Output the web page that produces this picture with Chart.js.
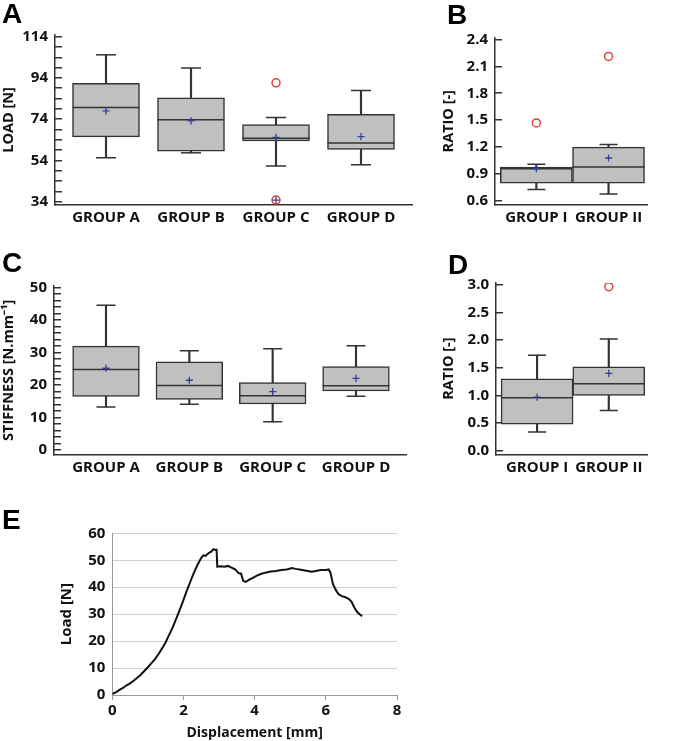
<!DOCTYPE html>
<html><head><meta charset="utf-8">
<script src="https://cdn.jsdelivr.net/npm/chart.js@4.4.1/dist/chart.umd.min.js"></script>
<style>
html,body{margin:0;padding:0;background:#fff;}
#wrap{position:relative;width:685px;height:741px;overflow:hidden;background:#fff;}
canvas{position:absolute;left:0;top:0;}
.lbl{position:absolute;font:bold 28px 'Liberation Sans',Arial,sans-serif;line-height:1;color:#000;}
</style></head><body>
<div id="wrap">
<canvas id="cA" width="685" height="741"></canvas>
<canvas id="cB" width="685" height="741"></canvas>
<canvas id="cC" width="685" height="741"></canvas>
<canvas id="cD" width="685" height="741"></canvas>
<canvas id="cE" width="685" height="741"></canvas>
<div class="lbl" style="left:2px;top:0px">A</div>
<div class="lbl" style="left:447px;top:1px">B</div>
<div class="lbl" style="left:2px;top:249px">C</div>
<div class="lbl" style="left:448px;top:251px">D</div>
<div class="lbl" style="left:2px;top:506px">E</div>
</div>
<script>
// ---------- categories ----------
const groupsABCD = ['GROUP A', 'GROUP B', 'GROUP C', 'GROUP D'];
const groupsI = ['GROUP I', 'GROUP II'];

// ---------- Panel A: load [N] ----------
const loadLow    = [55.3, 57.7, 51.3, 51.9];
const loadQ1     = [65.4, 58.5, 63.5, 59.4];
const loadMedian = [79.6, 73.7, 64.7, 62.5];
const loadQ3     = [91.4, 84.4, 71.4, 76.4];
const loadHigh   = [105.2, 98.8, 74.8, 87.9];
const loadMean   = [78.0, 73.2, 65.2, 65.5];
const loadOutliers = [[], [], [91.6, 34.8], []];
const loadOutlierCross = [[], [], [34.8], []];
const loadTickLabels = [34, 54, 74, 94, 114];
const loadMinorStep = 5;

// ---------- Panel B: ratio [-] ----------
const ratioBLow    = [0.73, 0.68];
const ratioBQ1     = [0.80, 0.80];
const ratioBMedian = [0.96, 0.98];
const ratioBQ3     = [0.98, 1.20];
const ratioBHigh   = [1.01, 1.23];
const ratioBMean   = [0.96, 1.08];
const ratioBOutliers = [[1.47], [2.21]];
const ratioBTickLabels = [0.6, 0.9, 1.2, 1.5, 1.8, 2.1, 2.4];

// ---------- Panel C: stiffness [N.mm-1] ----------
const stiffLow    = [13.3, 14.1, 8.7, 16.6];
const stiffQ1     = [16.5, 15.6, 14.2, 18.2];
const stiffMedian = [24.8, 19.9, 16.7, 19.8];
const stiffQ3     = [32.0, 27.2, 20.8, 25.7];
const stiffHigh   = [44.6, 30.6, 31.2, 32.1];
const stiffMean   = [25.2, 21.5, 18.0, 22.1];
const stiffOutliers = [[], [], [], []];
const stiffTickLabels = [0, 10, 20, 30, 40, 50];
const stiffMinorStep = 2;

// ---------- Panel D: ratio [-] ----------
const ratioDLow    = [0.34, 0.73];
const ratioDQ1     = [0.48, 1.00];
const ratioDMedian = [0.96, 1.21];
const ratioDQ3     = [1.30, 1.52];
const ratioDHigh   = [1.73, 2.02];
const ratioDMean   = [0.97, 1.40];
const ratioDOutliers = [[], [2.97]];
const ratioDTickLabels = [0.0, 0.5, 1.0, 1.5, 2.0, 2.5, 3.0];

// ---------- Panel E: load-displacement curve ----------
const dispMm = [0.00,0.10,0.20,0.30,0.40,0.50,0.60,0.70,0.80,0.90,1.00,1.10,1.20,1.30,1.40,1.50,1.60,1.70,1.80,1.90,2.00,2.10,2.20,2.30,2.40,2.50,2.56,2.62,2.70,2.78,2.84,2.90,2.93,2.95,3.05,3.15,3.25,3.35,3.45,3.55,3.62,3.68,3.75,3.85,3.95,4.05,4.15,4.30,4.45,4.60,4.75,4.90,5.05,5.15,5.30,5.45,5.60,5.72,5.85,6.00,6.08,6.13,6.20,6.28,6.36,6.45,6.55,6.65,6.72,6.80,6.88,6.95,7.02];
const loadN  = [0.4,1.0,1.9,2.6,3.6,4.3,5.3,6.4,7.5,8.9,10.3,11.8,13.3,15.2,17.3,19.6,22.4,25.2,28.4,31.8,35.3,38.9,42.3,45.6,48.4,50.9,51.8,51.6,52.6,53.2,54.1,53.8,53.9,47.6,47.8,47.6,47.9,47.3,46.6,45.2,45.0,42.3,42.0,42.8,43.5,44.2,44.8,45.4,45.8,46.0,46.4,46.6,47.1,46.8,46.5,46.1,45.7,46.0,46.4,46.4,46.6,45.4,41.2,39.0,37.4,36.7,36.3,35.6,34.7,32.5,30.8,30.0,29.2];
const dispTicks = [0, 2, 4, 6, 8];
const loadTicksE = [0, 10, 20, 30, 40, 50, 60];

Chart.defaults.font.family = "'Open Sans', sans-serif";
Chart.defaults.font.weight = 'bold';
Chart.defaults.color = '#111';

const INK = '#333333';

function rangeTicks(lo, hi, step) {
  const out = [];
  for (let v = lo; v <= hi + 1e-9; v += step) out.push(Math.round(v * 1000) / 1000);
  return out;
}

function boxChart(id, c) {
  const outPts = [];
  c.outliers.forEach((arr, i) => arr.forEach(v => outPts.push({x: i, y: v})));
  const crossPts = [];
  (c.outlierCross || []).forEach((arr, i) => arr.forEach(v => crossPts.push({x: i, y: v})));
  const pts = arr => arr.map((v, i) => ({x: i, y: v}));
  new Chart(document.getElementById(id), {
    type: 'bar',
    data: { datasets: [
      { type: 'bar', data: c.cats.map((g, i) => ({x: i, y: [c.lo[i], c.hi[i]]})),
        backgroundColor: INK, barThickness: 1.5, grouped: false, order: 6 },
      { type: 'bar', data: c.cats.map((g, i) => ({x: i, y: [c.q1[i], c.q3[i]]})),
        backgroundColor: '#c0c0c0', borderColor: INK, borderWidth: 1.5, borderSkipped: false,
        barThickness: c.boxW, grouped: false, order: 5 },
      { type: 'scatter', data: pts(c.lo).concat(pts(c.hi)), pointStyle: 'line',
        pointRadius: c.capR, borderColor: INK, borderWidth: 1.5, order: 4 },
      { type: 'scatter', data: pts(c.med), pointStyle: 'line',
        pointRadius: c.boxW / 2, borderColor: INK, borderWidth: 1.5, order: 3 },
      { type: 'scatter', data: pts(c.mean), pointStyle: 'cross',
        pointRadius: 3.6, borderColor: '#33409a', borderWidth: 1.3, order: 2 },
      { type: 'scatter', data: outPts, pointStyle: 'circle', pointRadius: 4,
        borderColor: '#d6443f', backgroundColor: 'rgba(0,0,0,0)', borderWidth: 1.5, order: 1 },
      { type: 'scatter', data: crossPts, pointStyle: 'cross', pointRadius: 3.6,
        borderColor: '#33409a', borderWidth: 1.3, order: 0 }
    ]},
    options: {
      responsive: false, animation: false, events: [],
      layout: { padding: c.pad },
      plugins: { legend: { display: false }, tooltip: { enabled: false } },
      scales: {
        x: { type: 'linear', min: c.xMin, max: c.xMax, offset: false, bounds: 'data',
          afterBuildTicks: ax => { ax.ticks = c.cats.map((g, i) => ({value: i})); },
          afterFit: ax => { ax.height = 30; ax.paddingLeft = 0; ax.paddingRight = 0; },
          grid: { display: false, drawTicks: false },
          border: { display: true, color: INK, width: 1.5 },
          ticks: { callback: v => c.cats[v], font: { size: 15, weight: 'bold' }, color: '#111',
            padding: 4, maxRotation: 0, autoSkip: false }
        },
        y: { type: 'linear', min: c.yMin, max: c.yMax, bounds: 'data',
          afterBuildTicks: ax => { ax.ticks = c.tickVals.map(v => ({value: v})); },
          afterFit: ax => { ax.width = c.yW; ax.paddingTop = 0; ax.paddingBottom = 0; },
          grid: { display: true, drawOnChartArea: false, drawTicks: true, tickLength: -7,
            color: INK, lineWidth: 1.5 },
          border: { display: true, color: INK, width: 1.5 },
          ticks: { callback: v => c.tickLabels.some(t => Math.abs(t - v) < 1e-6) ? c.fmt(v) : '',
            font: { size: 15, weight: 'bold' }, color: '#111', padding: 14, autoSkip: false },
          title: { display: true, text: c.title, font: { size: 14.5, weight: 'bold' }, color: '#111',
            padding: { top: 0.3, bottom: 0 } }
        }
      }
    }
  });
}

boxChart('cA', {
  cats: groupsABCD, lo: loadLow, q1: loadQ1, med: loadMedian, q3: loadQ3, hi: loadHigh,
  mean: loadMean, outliers: loadOutliers, outlierCross: loadOutlierCross,
  tickVals: rangeTicks(34, 114, loadMinorStep), tickLabels: loadTickLabels, fmt: v => String(v),
  title: 'LOAD [N]', yMin: 32.4, yMax: 114.8, xMin: -0.6, xMax: 3.6, yW: 55,
  boxW: 67, capR: 10, pad: { left: 0, right: 273, top: 33.3, bottom: 506 }
});
boxChart('cB', {
  cats: groupsI, lo: ratioBLow, q1: ratioBQ1, med: ratioBMedian, q3: ratioBQ3, hi: ratioBHigh,
  mean: ratioBMean, outliers: ratioBOutliers,
  tickVals: ratioBTickLabels, tickLabels: ratioBTickLabels, fmt: v => v.toFixed(1),
  title: 'RATIO [-]', yMin: 0.557, yMax: 2.42, xMin: -0.573, xMax: 1.54, yW: 55,
  boxW: 72, capR: 9, pad: { left: 440, right: 2, top: 33, bottom: 506 }
});
boxChart('cC', {
  cats: groupsABCD, lo: stiffLow, q1: stiffQ1, med: stiffMedian, q3: stiffQ3, hi: stiffHigh,
  mean: stiffMean, outliers: stiffOutliers,
  tickVals: rangeTicks(0, 50, stiffMinorStep), tickLabels: stiffTickLabels, fmt: v => String(v),
  title: 'STIFFNESS [N.mm\u207B\u00B9]', yMin: -1.5, yMax: 50.6, xMin: -0.624, xMax: 3.6, yW: 54,
  boxW: 66.7, capR: 9.5, pad: { left: 0, right: 279, top: 285.7, bottom: 256 }
});
boxChart('cD', {
  cats: groupsI, lo: ratioDLow, q1: ratioDQ1, med: ratioDMedian, q3: ratioDQ3, hi: ratioDHigh,
  mean: ratioDMean, outliers: ratioDOutliers,
  tickVals: ratioDTickLabels, tickLabels: ratioDTickLabels, fmt: v => v.toFixed(1),
  title: 'RATIO [-]', yMin: -0.065, yMax: 3.036, xMin: -0.573, xMax: 1.54, yW: 56,
  boxW: 72, capR: 9, pad: { left: 440, right: 2, top: 283, bottom: 256.7 }
});

// ---------- Panel E ----------
new Chart(document.getElementById('cE'), {
  type: 'scatter',
  data: { datasets: [{
    data: dispMm.map((x, i) => ({x: x, y: loadN[i]})),
    showLine: true, pointRadius: 0, borderColor: '#111', borderWidth: 2, tension: 0
  }]},
  options: {
    responsive: false, animation: false, events: [],
    layout: { padding: { left: 55, right: 288, top: 533.3, bottom: 0 } },
    plugins: { legend: { display: false }, tooltip: { enabled: false } },
    scales: {
      x: { type: 'linear', min: 0, max: 8, bounds: 'data',
        afterBuildTicks: ax => { ax.ticks = dispTicks.map(v => ({value: v})); },
        afterFit: ax => { ax.height = 46; ax.paddingLeft = 0; ax.paddingRight = 0; },
        grid: { display: true, drawOnChartArea: false, drawTicks: true, tickLength: 5, color: '#999', lineWidth: 1 },
        border: { display: true, color: '#999', width: 1 },
        ticks: { font: { size: 15, weight: 'bold' }, color: '#111', padding: 2, maxRotation: 0 },
        title: { display: true, text: 'Displacement [mm]', font: { size: 14, weight: 'bold' }, color: '#111',
          padding: { top: 0, bottom: 0 } }
      },
      y: { type: 'linear', min: 0, max: 60, bounds: 'data',
        afterBuildTicks: ax => { ax.ticks = loadTicksE.map(v => ({value: v})); },
        afterFit: ax => { ax.width = 57.3; ax.paddingTop = 0; ax.paddingBottom = 0; },
        grid: { display: true, drawTicks: false, color: '#cfcfcf', lineWidth: 1 },
        border: { display: true, color: '#999', width: 1 },
        ticks: { font: { size: 15, weight: 'bold' }, color: '#111', padding: 7, autoSkip: false },
        title: { display: true, text: 'Load [N]', font: { size: 15, weight: 'bold' }, color: '#111',
          padding: { top: 3.1, bottom: 0 } }
      }
    }
  }
});
</script>
</body></html>
